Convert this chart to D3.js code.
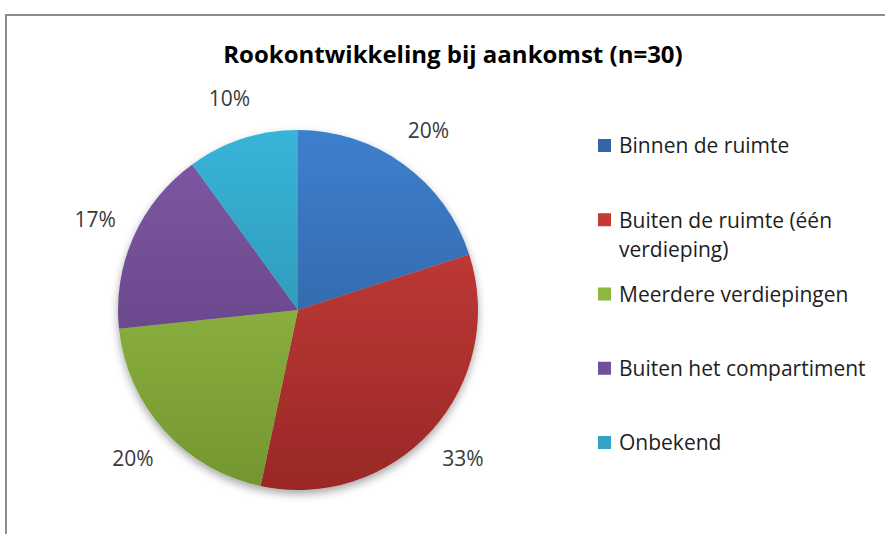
<!DOCTYPE html>
<html>
<head>
<meta charset="utf-8">
<script src="https://cdn.jsdelivr.net/npm/d3@7"></script>
<style>
  body { margin: 0; background: #fff; }
  text { font-family: "Open Sans", "Noto Sans", sans-serif; }
</style>
</head>
<body>
<div id="chart"></div>
<script>
'use strict';

// data ---------------------
const title       = 'Rookontwikkeling bij aankomst (n=30)'
const categories  = ['Binnen de ruimte', 'Buiten de ruimte (één verdieping)', 'Meerdere verdiepingen', 'Buiten het compartiment', 'Onbekend']
const legendLines = [['Binnen de ruimte'], ['Buiten de ruimte (één', 'verdieping)'], ['Meerdere verdiepingen'], ['Buiten het compartiment'], ['Onbekend']]
const counts      = [6, 10, 6, 5, 3]

// layout / style ---------------------
const width  = 885
const height = 534
const cx = 298, cy = 310, r = 180
const labelR = 222
const topColors    = ['#3e7fce', '#cf403c', '#9fc84b', '#8059a6', '#38b4d8']
const bottomColors = ['#2b5890', '#992827', '#739530', '#5a3c78', '#2885a0']
const legendColors = ['#3465a8', '#c43a37', '#8fb840', '#70509a', '#31a3c4']

const svg = d3.select('#chart').append('svg')
    .attr('width', width)
    .attr('height', height)

const defs = svg.append('defs')

// drop shadow under the pie
const shadow = defs.append('filter').attr('id', 'shadow')
    .attr('x', '-20%').attr('y', '-20%').attr('width', '140%').attr('height', '140%')
shadow.append('feDropShadow')
    .attr('dx', 0).attr('dy', 4).attr('stdDeviation', 4)
    .attr('flood-color', '#000').attr('flood-opacity', 0.35)

// vertical gradients per slice, spanning the whole pie (pie group coords)
categories.forEach(function(c, i) {
    const g = defs.append('linearGradient')
        .attr('id', 'grad' + i)
        .attr('gradientUnits', 'userSpaceOnUse')
        .attr('x1', 0).attr('y1', -r)
        .attr('x2', 0).attr('y2', r)
    g.append('stop').attr('offset', '0%').attr('stop-color', topColors[i])
    g.append('stop').attr('offset', '100%').attr('stop-color', bottomColors[i])
})

// frame (chart area border, cropped)
svg.append('line')
    .attr('x1', 5).attr('y1', 15).attr('x2', width).attr('y2', 15)
    .attr('stroke', '#8c8c8c').attr('stroke-width', 2)
svg.append('line')
    .attr('x1', 6).attr('y1', 15).attr('x2', 6).attr('y2', height)
    .attr('stroke', '#8c8c8c').attr('stroke-width', 2)

// title
svg.append('text')
    .attr('x', 453).attr('y', 63)
    .attr('text-anchor', 'middle')
    .attr('font-size', 24).attr('font-weight', 'bold')
    .attr('fill', '#000')
    .text(title)

// pie ---------------------
const total = d3.sum(counts)
const pie = d3.pie().sort(null).value(function(d) { return d })
const arcs = pie(counts)
const arc = d3.arc().innerRadius(0).outerRadius(r)
const labelArc = d3.arc().innerRadius(labelR).outerRadius(labelR)

const pieG = svg.append('g')
    .attr('transform', 'translate(' + cx + ',' + cy + ')')

pieG.append('g').attr('filter', 'url(#shadow)')
    .selectAll('path')
    .data(arcs)
    .enter().append('path')
    .attr('d', arc)
    .attr('fill', function(d, i) { return 'url(#grad' + i + ')' })

// percentage labels
pieG.selectAll('text.pct')
    .data(arcs)
    .enter().append('text')
    .attr('class', 'pct')
    .attr('x', function(d) { return labelArc.centroid(d)[0] })
    .attr('y', function(d) { return labelArc.centroid(d)[1] })
    .attr('dy', '0.35em')
    .attr('text-anchor', 'middle')
    .attr('font-size', 21)
    .attr('fill', '#3a3a3a')
    .text(function(d) { return Math.round(d.value / total * 100) + '%' })

// legend ---------------------
const legendY = d3.scalePoint().domain(categories).range([146, 443])

const leg = svg.append('g').selectAll('g')
    .data(categories)
    .enter().append('g')
    .attr('transform', function(d) { return 'translate(598,' + legendY(d) + ')' })

leg.append('rect')
    .attr('x', 0).attr('y', -7)
    .attr('width', 13).attr('height', 13)
    .attr('fill', function(d, i) { return legendColors[i] })

leg.each(function(d, i) {
    const t = d3.select(this).append('text')
        .attr('font-size', 21)
        .attr('fill', '#1e1e1e')
    legendLines[i].forEach(function(line, k) {
        t.append('tspan')
            .attr('x', 21)
            .attr('y', k * 29)
            .attr('dy', '0.35em')
            .text(line)
    })
})
</script>
</body>
</html>
